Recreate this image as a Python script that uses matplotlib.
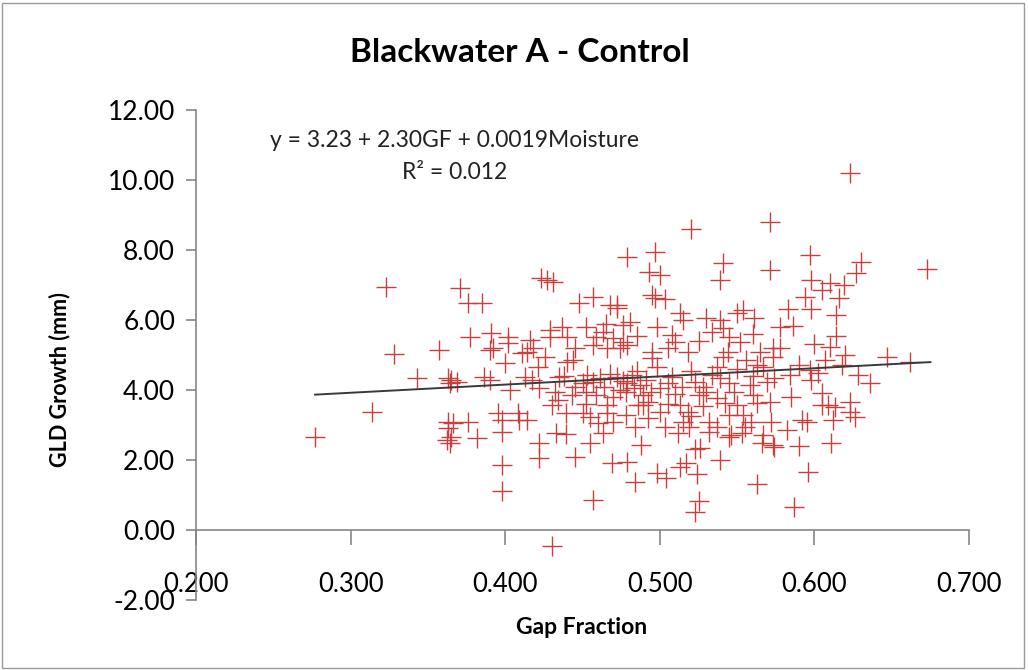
import matplotlib.pyplot as plt
from matplotlib.patches import Rectangle

plt.rcParams['font.family'] = ['Lato', 'DejaVu Sans']

# gap fraction vs. GLD growth (mm), one entry per tree
gap_fraction = [
    0.277, 0.314, 0.323, 0.328, 0.343, 0.357, 0.362, 0.364, 0.363, 0.363,
    0.363, 0.364, 0.365, 0.365, 0.369, 0.366, 0.371, 0.376, 0.385, 0.377,
    0.376, 0.382, 0.386, 0.390, 0.391, 0.392, 0.390, 0.395, 0.398, 0.398,
    0.398, 0.398, 0.400, 0.402, 0.402, 0.403, 0.408, 0.409, 0.411, 0.413,
    0.414, 0.414, 0.416, 0.417, 0.418, 0.421, 0.422, 0.422, 0.422, 0.423,
    0.427, 0.431, 0.426, 0.429, 0.429, 0.430, 0.430, 0.432, 0.433, 0.434,
    0.435, 0.437, 0.439, 0.439, 0.440, 0.440, 0.443, 0.444, 0.445, 0.448,
    0.450, 0.453, 0.455, 0.455, 0.457, 0.457, 0.457, 0.457, 0.459, 0.459,
    0.463, 0.463, 0.466, 0.466, 0.466, 0.468, 0.469, 0.472, 0.472, 0.470,
    0.472, 0.474, 0.474, 0.476, 0.476, 0.479, 0.479, 0.479, 0.479, 0.481,
    0.482, 0.484, 0.486, 0.487, 0.488, 0.489, 0.489, 0.492, 0.493, 0.495,
    0.495, 0.495, 0.497, 0.497, 0.498, 0.498, 0.498, 0.500, 0.500, 0.500,
    0.503, 0.503, 0.504, 0.508, 0.508, 0.510, 0.512, 0.513, 0.513, 0.513,
    0.514, 0.515, 0.515, 0.517, 0.518, 0.518, 0.519, 0.520, 0.523, 0.523,
    0.523, 0.524, 0.525, 0.525, 0.526, 0.528, 0.532, 0.532, 0.534, 0.534,
    0.537, 0.537, 0.537, 0.539, 0.539, 0.539, 0.539, 0.541, 0.541, 0.541,
    0.542, 0.544, 0.545, 0.545, 0.546, 0.548, 0.550, 0.550, 0.552, 0.553,
    0.554, 0.554, 0.558, 0.559, 0.560, 0.561, 0.563, 0.563, 0.563, 0.566,
    0.567, 0.567, 0.569, 0.571, 0.571, 0.571, 0.572, 0.573, 0.573, 0.573,
    0.574, 0.574, 0.578, 0.578, 0.582, 0.583, 0.584, 0.585, 0.586, 0.587,
    0.590, 0.590, 0.592, 0.594, 0.595, 0.596, 0.597, 0.597, 0.598, 0.598,
    0.598, 0.600, 0.602, 0.605, 0.605, 0.605, 0.607, 0.609, 0.610, 0.610,
    0.611, 0.612, 0.613, 0.614, 0.614, 0.616, 0.618, 0.619, 0.620, 0.623,
    0.623, 0.623, 0.626, 0.627, 0.628, 0.630, 0.636, 0.647, 0.662, 0.673,
    0.450, 0.452, 0.461, 0.464, 0.468, 0.470, 0.476, 0.478, 0.483, 0.485,
    0.491, 0.494, 0.505, 0.510, 0.520, 0.530, 0.545, 0.550, 0.556, 0.560,
    0.470, 0.478, 0.484, 0.492, 0.505, 0.520, 0.528, 0.545, 0.555, 0.460,
    0.452, 0.445, 0.438, 0.445, 0.452, 0.465, 0.485, 0.505, 0.525, 0.530,
    0.560, 0.565,
]
gld_growth = [
    2.65, 3.37, 6.94, 5.02, 4.34, 5.14, 2.57, 2.49, 3.09, 2.91,
    4.34, 4.20, 2.66, 4.29, 4.23, 3.06, 6.91, 6.49, 6.49, 5.51,
    3.09, 2.63, 4.37, 4.29, 5.63, 5.20, 5.14, 3.34, 3.14, 2.80,
    1.86, 1.11, 4.77, 5.51, 5.34, 4.00, 3.34, 3.14, 5.06, 4.37,
    3.14, 5.09, 5.43, 4.29, 5.20, 4.66, 4.06, 2.49, 2.06, 7.20,
    7.14, 7.10, 4.94, 5.71, 5.51, 3.57, -0.46, 3.94, 2.77, 3.71,
    4.37, 5.80, 3.34, 2.74, 5.51, 4.80, 3.86, 4.86, 2.09, 6.49,
    3.34, 4.43, 3.23, 2.49, 6.66, 5.29, 4.23, 0.86, 5.51, 3.86,
    5.66, 2.77, 5.20, 3.57, 3.34, 6.43, 1.91, 6.43, 6.34, 5.49,
    4.37, 5.20, 4.00, 5.86, 5.37, 5.29, 4.20, 1.94, 7.80, 5.94,
    4.43, 1.37, 3.57, 4.14, 2.43, 3.86, 3.57, 3.66, 7.37, 6.71,
    5.09, 4.91, 7.94, 6.63, 5.80, 4.66, 1.63, 7.28, 4.06, 3.37,
    6.60, 2.94, 1.49, 5.57, 4.37, 5.37, 2.77, 6.20, 3.57, 1.80,
    4.09, 6.00, 3.09, 1.91, 5.09, 3.37, 2.94, 8.60, 4.23, 2.31,
    0.51, 1.60, 3.86, 0.83, 2.34, 4.09, 3.09, 2.80, 5.66, 4.43,
    4.66, 3.77, 2.94, 7.14, 6.00, 4.34, 2.00, 7.62, 5.77, 4.94,
    3.63, 5.09, 5.51, 2.66, 2.71, 3.94, 6.20, 3.57, 5.37, 2.77,
    6.29, 3.29, 4.14, 3.09, 3.86, 6.06, 4.71, 3.63, 1.31, 2.49,
    4.66, 2.71, 4.23, 8.80, 7.43, 3.66, 3.09, 5.20, 4.94, 2.43,
    4.34, 2.37, 5.80, 5.20, 2.86, 6.31, 4.43, 3.80, 5.83, 0.66,
    4.71, 2.40, 3.14, 6.66, 3.09, 1.66, 7.86, 4.57, 7.14, 6.31,
    4.29, 5.31, 4.49, 6.86, 3.91, 3.57, 4.86, 3.57, 7.06, 5.23,
    2.49, 3.14, 3.51, 6.14, 5.54, 6.62, 4.71, 7.00, 5.00, 10.20,
    3.66, 3.37, 3.23, 7.34, 4.43, 7.66, 4.20, 4.94, 4.80, 7.45,
    4.20, 3.95, 4.35, 4.10, 4.45, 3.80, 4.25, 3.95, 4.05, 4.55,
    4.30, 3.95, 4.20, 3.90, 4.55, 3.95, 4.20, 4.60, 4.85, 4.40,
    3.10, 3.30, 2.95, 3.20, 3.60, 3.25, 3.55, 3.30, 2.95, 3.05,
    3.60, 4.10, 4.40, 5.20, 5.80, 5.90, 5.55, 5.20, 5.40, 6.05,
    5.60, 5.10,
]

# fitted line drawn over the gap fraction range
trend_x = [0.277, 0.675]
trend_y = [3.87, 4.80]

x_ticks = [0.2, 0.3, 0.4, 0.5, 0.6, 0.7]
y_ticks = [-2, 0, 2, 4, 6, 8, 10, 12]

axis_grey = '#868686'

fig = plt.figure(figsize=(10.28, 6.70), dpi=100)
fig.patches.append(Rectangle((0.002, 0.003), 0.994, 0.993, transform=fig.transFigure,
                             fill=False, edgecolor='#9a9a9a', linewidth=1))

ax = fig.add_axes([0.1907, 0.1045, 0.752, 0.731])
ax.plot(gap_fraction, gld_growth, linestyle='none', marker='+', markersize=14,
        markeredgewidth=1, color='#C8403D')
ax.plot(trend_x, trend_y, color='#3a3a3a', linewidth=1.4)

ax.set_xlim(0.2, 0.7)
ax.set_ylim(-2, 12)
ax.spines['top'].set_visible(False)
ax.spines['right'].set_visible(False)
ax.spines['bottom'].set_position(('data', 0))
for side in ('left', 'bottom'):
    ax.spines[side].set_color(axis_grey)
    ax.spines[side].set_linewidth(1.2)

ax.set_xticks(x_ticks)
ax.set_xticklabels(['%.3f' % v for v in x_ticks])
ax.set_yticks(y_ticks)
ax.set_yticklabels(['%.2f' % v for v in y_ticks])
ax.tick_params(axis='x', direction='out', length=11, width=1.2, pad=19,
               labelsize=18.5, color=axis_grey)
ax.tick_params(axis='y', direction='out', length=7, width=1.2, pad=8,
               labelsize=19, color=axis_grey)

ax.text(0.367, 11.14, 'y = 3.23 + 2.30GF + 0.0019Moisture', ha='center', va='center',
        fontsize=16.5, color='#222222')
ax.text(0.367, 10.23, 'R² = 0.012', ha='center', va='center',
        fontsize=16.5, color='#222222')

fig.text(0.506, 0.922, 'Blackwater A - Control', ha='center', va='center',
         fontsize=24, fontweight='bold')
fig.text(0.566, 0.063, 'Gap Fraction', ha='center', va='center',
         fontsize=16.5, fontweight='bold')
fig.text(0.058, 0.434, 'GLD Growth (mm)', ha='center', va='center', rotation=90,
         fontsize=15.5, fontweight='bold')

fig.savefig('out.png', dpi=100)
